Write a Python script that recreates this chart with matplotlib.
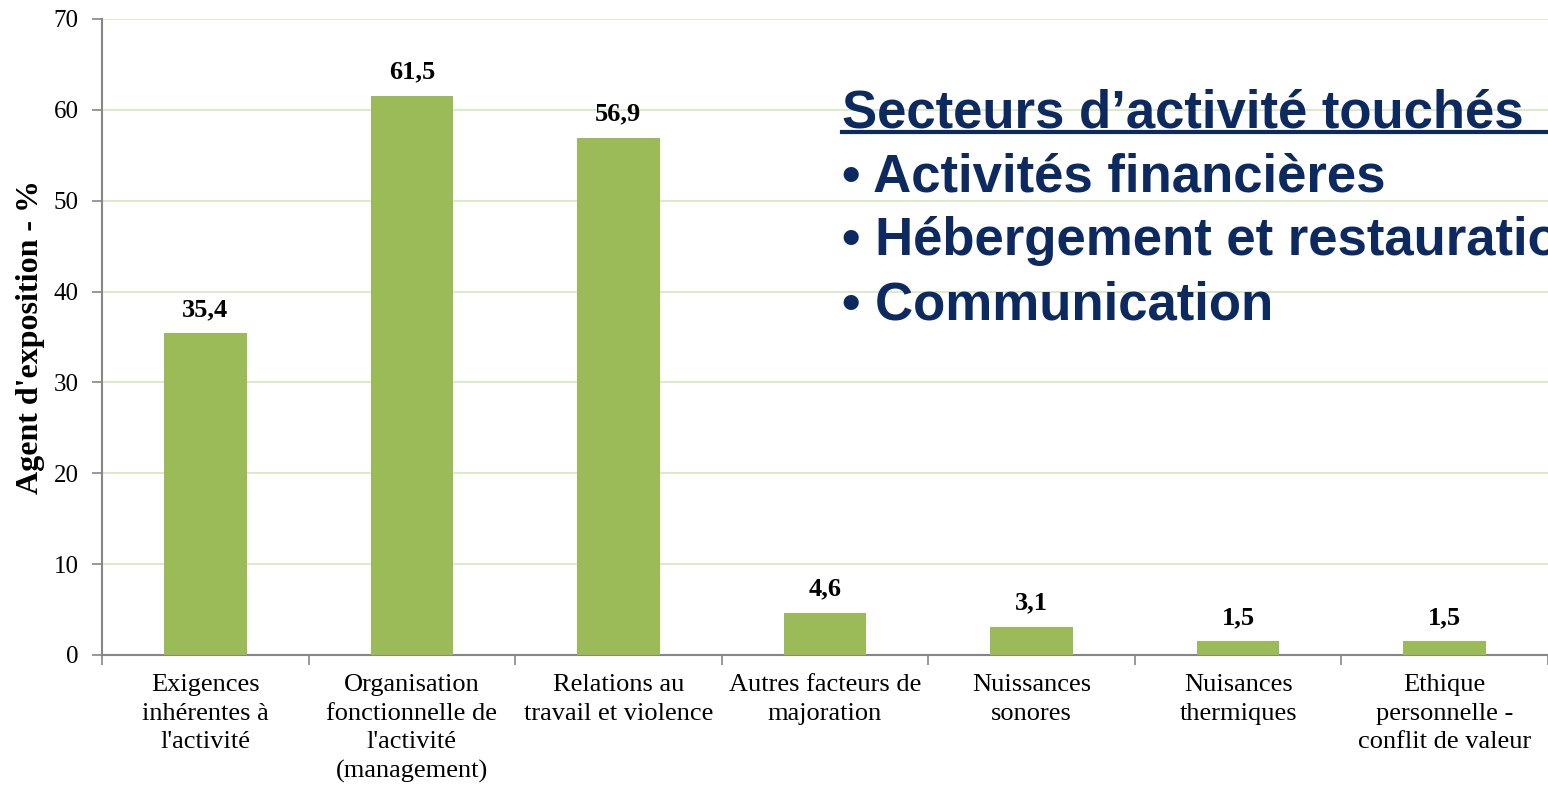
import matplotlib.pyplot as plt
import numpy as np
from matplotlib.lines import Line2D

categories = [
    "Exigences\ninhérentes à\nl'activité",
    "Organisation\nfonctionnelle de\nl'activité\n(management)",
    "Relations au\ntravail et violence",
    "Autres facteurs de\nmajoration",
    "Nuissances\nsonores",
    "Nuisances\nthermiques",
    "Ethique\npersonnelle -\nconflit de valeur",
]
values = [35.4, 61.5, 56.9, 4.6, 3.1, 1.5, 1.5]
value_labels = ["35,4", "61,5", "56,9", "4,6", "3,1", "1,5", "1,5"]

sectors_title = "Secteurs d\u2019activité touchés"
sectors = ["Activités financières", "Hébergement et restauration", "Communication"]

serif = ["Liberation Serif", "DejaVu Serif"]
navy = "#0c2a5f"
bar_green = "#9bbb59"
axis_grey = "#868686"

fig = plt.figure(figsize=(15.48, 7.88), dpi=100)
ax = fig.add_axes([0.0659, 0.1688, 0.9341, 0.8071])

x = np.arange(len(values))
bars = ax.bar(x, values, width=0.4, color=bar_green, zorder=3)

for b, lab in zip(bars, value_labels):
    ax.annotate(lab, (b.get_x() + b.get_width() / 2, b.get_height()),
                xytext=(0, 9), textcoords="offset points",
                ha="center", va="bottom", fontsize=19, fontweight="bold",
                family=serif)

ax.set_xlim(-0.5, len(values) - 0.5)
ax.set_ylim(0, 70)
ax.set_yticks(range(0, 71, 10))
ax.grid(axis="y", color="#d7e6bf", linewidth=1.2, zorder=0)

# category boundaries carry the tick marks, labels sit on the bar centres
ax.set_xticks(np.arange(-0.5, len(values)), labels=[""] * (len(values) + 1))
ax.set_xticks(x, labels=categories, minor=True)
ax.tick_params(axis="x", which="major", direction="out", length=7,
               color=axis_grey, width=1.2)
ax.tick_params(axis="x", which="minor", length=0, pad=14, labelsize=19)
ax.tick_params(axis="y", direction="out", length=7, color=axis_grey,
               width=1.2, labelsize=18, pad=10)
for lab in ax.get_xticklabels(minor=True):
    lab.set_family(serif)
    lab.set_linespacing(1.38)
for lab in ax.get_yticklabels():
    lab.set_family(serif)

for side in ["top", "right"]:
    ax.spines[side].set_visible(False)
for side in ["left", "bottom"]:
    ax.spines[side].set_color(axis_grey)
    ax.spines[side].set_linewidth(1.5)

ax.set_ylabel("Agent d'exposition - %", fontsize=23, fontweight="bold",
              family=serif, labelpad=6)

# sector box text
sans = ["Liberation Sans", "DejaVu Sans"]
fig.text(842 / 1548, 1 - 127 / 788, sectors_title, fontsize=38,
         fontweight="bold", color=navy, family=sans, va="baseline")
fig.add_artist(Line2D([842 / 1548, 1.0], [1 - 132 / 788] * 2,
                      color=navy, linewidth=3, transform=fig.transFigure))
for i, s in enumerate(sectors):
    fig.text(842 / 1548, 1 - (191 + 64 * i) / 788, "\u2022 " + s, fontsize=38,
             fontweight="bold", color=navy, family=sans, va="baseline")

fig.savefig("out.png", dpi=100)
